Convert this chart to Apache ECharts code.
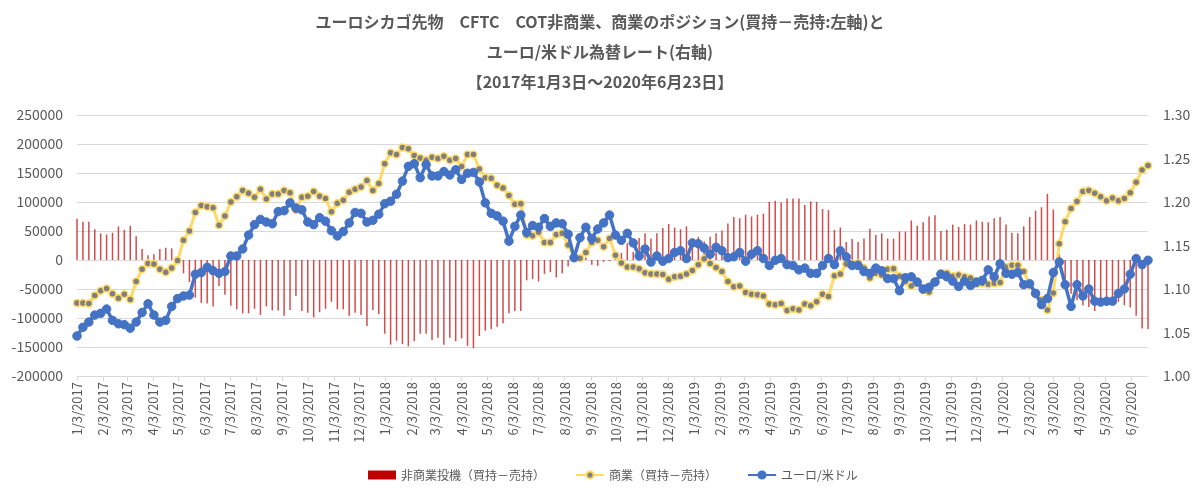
<!DOCTYPE html>
<html>
<head>
<meta charset="utf-8">
<script src="https://cdn.jsdelivr.net/npm/echarts@6/dist/echarts.min.js"></script>
<style>
html,body{margin:0;padding:0;background:#fff;}
#c{width:1200px;height:497px;}
</style>
</head>
<body>
<div id="c"></div>
<script>
// ---- data (weekly, Tuesdays from 2017-01-03 to 2020-06-23) ----
const startDate = '2017-01-03';
const endDate = '2020-06-23';
const titleLines = [
  'ユーロシカゴ先物　CFTC　COT非商業、商業のポジション(買持－売持:左軸)と',
  'ユーロ/米ドル為替レート(右軸)',
  '【2017年1月3日～2020年6月23日】'
];
const seriesNames = ['非商業投機（買持－売持）', '商業（買持－売持）', 'ユーロ/米ドル'];
const leftTicks = [-200000, 250000, 50000];
const rightTicks = [1.00, 1.30, 0.05];

const nonCommercial = [
  71000,66000,66000,53000,46000,44000,47000,58000,52000,59000,
  41000,19000,8000,10000,19000,21000,20000,1000,-23000,-38000,
  -65000,-74000,-75000,-80000,-45000,-60000,-79000,-85000,-92000,-92000,
  -84000,-95000,-80000,-87000,-87000,-96000,-86000,-62000,-88000,-91000,
  -99000,-90000,-84000,-72000,-85000,-85000,-96000,-91000,-95000,-114000,
  -86000,-93000,-127000,-146000,-139000,-145000,-149000,-140000,-127000,-127000,
  -138000,-134000,-146000,-134000,-140000,-135000,-148000,-152000,-131000,-122000,
  -119000,-115000,-109000,-92000,-88000,-88000,-35000,-33000,-37000,-24000,
  -21000,-30000,-23000,-11000,-3000,-2000,4000,-8000,-10000,-3000,
  -2000,4000,12000,29000,14000,38000,46000,37000,46000,55000,
  62000,56000,53000,58000,35000,40000,32000,40000,46000,51000,
  63000,74000,72000,78000,75000,78000,80000,100000,102000,99000,
  106000,106000,106000,95000,101000,100000,88000,86000,52000,56000,
  31000,36000,31000,37000,54000,43000,46000,37000,37000,49000,
  49000,68000,59000,65000,75000,77000,50000,52000,61000,57000,
  62000,61000,68000,66000,65000,72000,74000,61000,47000,46000,
  58000,74000,85000,91000,114000,87000,10000,-46000,-58000,-69000,
  -78000,-81000,-88000,-78000,-77000,-72000,-72000,-78000,-82000,-96000,
  -118000,-119000
];
const commercial = [
  -74000,-74000,-75000,-61000,-53000,-49000,-58000,-66000,-59000,-68000,
  -37000,-16000,-6000,-7000,-16000,-21000,-14000,-1000,34000,50000,
  82000,94000,92000,90000,60000,76000,100000,109000,120000,115000,
  108000,122000,105000,114000,114000,120000,116000,86000,108000,110000,
  118000,110000,106000,83000,98000,103000,117000,122000,126000,137000,
  120000,132000,166000,185000,182000,194000,192000,180000,176000,172000,
  177000,175000,179000,172000,175000,161000,182000,182000,157000,142000,
  141000,129000,124000,111000,96000,97000,43000,42000,48000,30000,
  30000,44000,46000,26000,4000,3000,13000,30000,34000,23000,
  37000,8000,-5000,-12000,-12000,-15000,-22000,-24000,-24000,-25000,
  -33000,-29000,-28000,-24000,-18000,-8000,2000,-6000,-13000,-20000,
  -37000,-46000,-45000,-56000,-59000,-60000,-62000,-76000,-77000,-75000,
  -87000,-84000,-86000,-76000,-79000,-72000,-59000,-63000,-27000,-24000,
  -7000,-7000,-5000,-14000,-31000,-23000,-26000,-16000,-15000,-28000,
  -37000,-45000,-40000,-52000,-55000,-37000,-23000,-23000,-28000,-26000,
  -29000,-31000,-42000,-40000,-42000,-40000,-39000,-12000,-9000,-9000,
  -20000,-43000,-59000,-69000,-86000,-57000,28000,66000,89000,101000,
  118000,120000,115000,109000,102000,107000,102000,106000,116000,134000,
  155000,163000
];
const eurUsd = [
  1.046,1.056,1.062,1.070,1.072,1.077,1.064,1.060,1.059,1.055,
  1.062,1.073,1.083,1.070,1.062,1.064,1.080,1.089,1.092,1.093,
  1.117,1.119,1.125,1.121,1.118,1.120,1.138,1.138,1.146,1.162,
  1.174,1.180,1.177,1.175,1.189,1.190,1.199,1.193,1.191,1.177,
  1.174,1.182,1.178,1.167,1.161,1.166,1.176,1.188,1.187,1.177,
  1.179,1.186,1.198,1.201,1.209,1.224,1.241,1.244,1.228,1.243,
  1.230,1.230,1.235,1.231,1.237,1.226,1.233,1.234,1.223,1.199,
  1.187,1.184,1.178,1.155,1.172,1.185,1.165,1.173,1.171,1.181,
  1.172,1.176,1.175,1.163,1.136,1.159,1.171,1.158,1.169,1.176,
  1.185,1.162,1.156,1.164,1.153,1.138,1.146,1.131,1.138,1.132,
  1.135,1.142,1.144,1.135,1.153,1.152,1.147,1.140,1.148,1.144,
  1.136,1.137,1.142,1.132,1.140,1.144,1.135,1.127,1.133,1.135,
  1.128,1.127,1.122,1.124,1.118,1.118,1.127,1.135,1.128,1.144,
  1.137,1.127,1.127,1.120,1.118,1.124,1.121,1.112,1.112,1.098,
  1.113,1.114,1.108,1.100,1.102,1.108,1.117,1.114,1.109,1.103,
  1.109,1.104,1.108,1.110,1.122,1.114,1.129,1.118,1.117,1.119,
  1.105,1.106,1.095,1.082,1.089,1.119,1.131,1.105,1.080,1.105,
  1.092,1.100,1.086,1.085,1.086,1.086,1.095,1.100,1.117,1.135,
  1.128,1.133
];

// ---- build a daily category axis so monthly ticks fall on the 3rd ----
function parse(s){const p=s.split('-');return Date.UTC(+p[0],+p[1]-1,+p[2]);}
const DAY = 86400000;
const t0 = parse(startDate), t1 = parse(endDate);
const nDays = Math.round((t1 - t0)/DAY) + 1;
const dayCats = [];
for (let k = 0; k < nDays; k++) {
  const d = new Date(t0 + k*DAY);
  dayCats.push((d.getUTCMonth()+1) + '/' + d.getUTCDate() + '/' + d.getUTCFullYear());
}
function spread(arr){
  const out = new Array(nDays).fill(null);
  arr.forEach((v,i)=>{ out[i*7] = v; });
  return out;
}
const isMonthTick = (idx, val) => val.split('/')[1] === '3';

const FONT = '"Noto Sans CJK JP", "Noto Sans", sans-serif';
const GREY = '#595959';

const chart = echarts.init(document.getElementById('c'), null, {renderer:'canvas'});
chart.setOption({
  animation: false,
  backgroundColor: '#fff',
  textStyle: {fontFamily: FONT},
  title: {
    text: titleLines.join('\n'),
    left: 'center',
    top: 2,
    padding: [5, 0, 5, 12],
    textStyle: {fontFamily: FONT, fontSize: 16, fontWeight: 'bold', color: GREY, lineHeight: 30}
  },
  legend: {
    bottom: 11,
    left: 363,
    itemGap: 30,
    itemWidth: 28,
    itemHeight: 9,
    textStyle: {fontFamily: FONT, fontSize: 12, color: GREY},
    data: [
      {name: seriesNames[0], icon: 'rect', itemStyle: {color: '#C00000', opacity: 1}},
      {name: seriesNames[1]},
      {name: seriesNames[2]}
    ]
  },
  grid: {left: 77, right: 52, top: 115, bottom: 121, containLabel: false},
  xAxis: {
    type: 'category',
    data: dayCats,
    boundaryGap: false,
    axisLine: {onZero: false, lineStyle: {color: '#D9D9D9', width: 1}},
    axisTick: {show: true, interval: isMonthTick, length: 5, lineStyle: {color: '#D9D9D9'}},
    axisLabel: {interval: isMonthTick, rotate: 90, margin: 6, fontSize: 13, color: GREY, fontFamily: FONT},
    splitLine: {show: false}
  },
  yAxis: [
    {
      type: 'value', min: leftTicks[0], max: leftTicks[1], interval: leftTicks[2],
      axisLine: {show: false}, axisTick: {show: false},
      axisLabel: {fontSize: 14, color: GREY, margin: 14, fontFamily: FONT, formatter: v => String(v)},
      splitLine: {lineStyle: {color: '#D9D9D9', width: 1}}
    },
    {
      type: 'value', min: rightTicks[0], max: rightTicks[1], interval: rightTicks[2],
      axisLine: {show: false}, axisTick: {show: false},
      axisLabel: {fontSize: 14, color: GREY, margin: 15, fontFamily: FONT, formatter: v => v.toFixed(2)},
      splitLine: {show: false}
    }
  ],
  series: [
    {
      name: seriesNames[0], type: 'bar', yAxisIndex: 0,
      data: spread(nonCommercial),
      barWidth: 1.5,
      itemStyle: {color: '#C00000', opacity: 0.7},
      z: 1
    },
    {
      name: seriesNames[1], type: 'line', yAxisIndex: 0,
      data: spread(commercial),
      connectNulls: true,
      showAllSymbol: true,
      symbol: 'circle', symbolSize: 7,
      lineStyle: {color: '#FFD966', width: 3},
      itemStyle: {color: '#7F7F7F', borderColor: '#FFD966', borderWidth: 1.5},
      z: 2
    },
    {
      name: seriesNames[2], type: 'line', yAxisIndex: 1,
      data: spread(eurUsd),
      connectNulls: true,
      showAllSymbol: true,
      symbol: 'circle', symbolSize: 8.5,
      lineStyle: {color: '#4472C4', width: 3.5},
      itemStyle: {color: '#4472C4', borderColor: '#4472C4', borderWidth: 1},
      z: 3
    }
  ]
});
</script>
</body>
</html>
